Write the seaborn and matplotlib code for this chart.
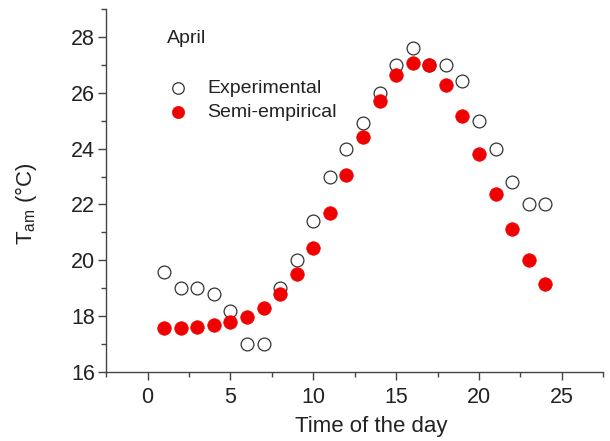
import matplotlib
matplotlib.use("Agg")
import matplotlib.pyplot as plt
import seaborn as sns
import pandas as pd
from matplotlib.ticker import MultipleLocator

hours = list(range(1, 25))
experimental = [19.6, 19.0, 19.0, 18.8, 18.2, 17.0, 17.0, 19.0, 20.0, 21.4, 23.0, 24.0,
                24.9, 26.0, 27.0, 27.6, 27.0, 27.0, 26.4, 25.0, 24.0, 22.8, 22.0, 22.0]
semi_empirical = [17.57, 17.57, 17.6, 17.68, 17.79, 17.96, 18.29, 18.79, 19.5, 20.46, 21.68, 23.07,
                  24.43, 25.71, 26.64, 27.07, 26.98, 26.29, 25.18, 23.82, 22.39, 21.11, 20.0, 19.14]

df = pd.DataFrame({"hour": hours, "exp": experimental, "semi": semi_empirical})

sns.set_style("ticks")
plt.rcParams['font.family'] = ['Liberation Sans', 'DejaVu Sans']

fig = plt.figure(figsize=(6.10, 4.41), dpi=100)
ax = fig.add_axes([0.174, 0.156, 0.815, 0.824])

sns.scatterplot(data=df, x="hour", y="exp", ax=ax, s=85, facecolor="white",
                edgecolor="#333333", linewidth=0.9, label="Experimental", zorder=2)
sns.scatterplot(data=df, x="hour", y="semi", ax=ax, s=95, color="#f00000",
                edgecolor="#f00000", linewidth=0.5, label="Semi-empirical", zorder=3)

ax.set_xlim(-2.5, 27.5)
ax.set_ylim(16, 29)
ax.xaxis.set_major_locator(MultipleLocator(5))
ax.xaxis.set_minor_locator(MultipleLocator(2.5))
ax.yaxis.set_major_locator(MultipleLocator(2))
ax.yaxis.set_minor_locator(MultipleLocator(1))
ax.set_yticks([16, 18, 20, 22, 24, 26, 28])

sns.despine(ax=ax)
for sp in ["left", "bottom"]:
    ax.spines[sp].set_color("#444444")
    ax.spines[sp].set_linewidth(1.0)
ax.tick_params(which="major", direction="out", length=6, width=1, color="#444444",
               labelsize=15.5, labelcolor="#222222", pad=2)
ax.tick_params(axis="x", which="major", pad=5)
ax.tick_params(which="minor", direction="out", length=3.5, width=1, color="#444444")

ax.set_xlabel("Time of the day", fontsize=16, color="#222222")
ax.set_ylabel("T$_{\\mathregular{am}}$ (°C)", fontsize=16, color="#222222")
ax.xaxis.set_label_coords(0.533, -0.12)
ax.yaxis.set_label_coords(-0.135, 0.463)

ax.text(0.123, 0.918, "April", transform=ax.transAxes, fontsize=14, color="#222222",
        ha="left", va="center")
leg = ax.legend(loc="upper left", bbox_to_anchor=(0.09, 0.826), frameon=False,
                fontsize=14, handletextpad=0.5, labelspacing=0.3, borderaxespad=0,
                markerscale=0.9)
for t in leg.get_texts():
    t.set_color("#222222")

fig.savefig("out.png", dpi=100)
